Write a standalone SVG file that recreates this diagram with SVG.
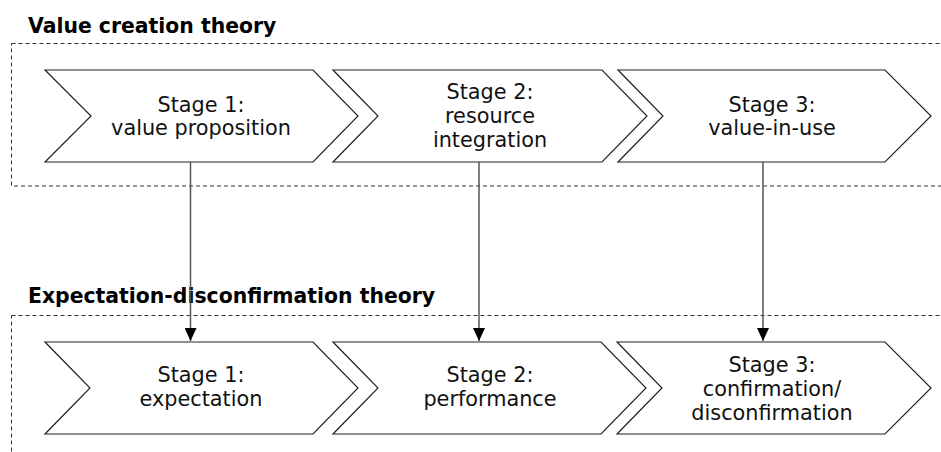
<svg xmlns="http://www.w3.org/2000/svg" width="941" height="452" viewBox="0 0 941 452">
<style>
.title{font-family:"DejaVu Sans",Verdana,sans-serif;font-weight:bold;font-size:20.4px;fill:#000}
.lbl{font-family:"DejaVu Sans",Verdana,sans-serif;font-size:20.8px;fill:#111;text-anchor:middle}
.box{fill:none;stroke:#333;stroke-width:1;stroke-dasharray:4 3}
.chev{fill:#fff;stroke:#222;stroke-width:1.2;stroke-linejoin:miter}
.conn{stroke:#555;stroke-width:1.5;fill:none}
</style>
<defs>
<marker id="ah" markerWidth="14" markerHeight="12" refX="13" refY="6" orient="auto" markerUnits="userSpaceOnUse">
<path d="M0,0 L13,6 L0,12 Z" fill="#000"/>
</marker>
</defs>
<rect width="941" height="452" fill="#fff"/>
<g id="group-value-creation">
<text class="title" x="28" y="33">Value creation theory</text>
<rect class="box" x="11.5" y="43.5" width="940" height="142.5"/>
</g>
<g id="group-expectation">
<text class="title" x="28" y="303">Expectation-disconfirmation theory</text>
<rect class="box" x="11.5" y="315.5" width="940" height="150"/>
</g>
<g id="vc1">
<path class="chev" d="M45,70 L313,70 L358,116 L313,162 L45,162 L91,116 Z"/>
<text class="lbl" x="201" y="112">Stage 1:</text>
<text class="lbl" x="201" y="135">value proposition</text>
</g>
<g id="vc2">
<path class="chev" d="M333,70 L602,70 L647,116 L602,162 L333,162 L378,116 Z"/>
<text class="lbl" x="490" y="99">Stage 2:</text>
<text class="lbl" x="490" y="123">resource</text>
<text class="lbl" x="490" y="147">integration</text>
</g>
<g id="vc3">
<path class="chev" d="M618,70 L885,70 L931,116 L885,162 L618,162 L663,116 Z"/>
<text class="lbl" x="772" y="112">Stage 3:</text>
<text class="lbl" x="772" y="135">value-in-use</text>
</g>
<g id="ed1">
<path class="chev" d="M45,342 L313,342 L358,388 L313,434 L45,434 L90,388 Z"/>
<text class="lbl" x="201" y="382">Stage 1:</text>
<text class="lbl" x="201" y="406">expectation</text>
</g>
<g id="ed2">
<path class="chev" d="M333,342 L601,342 L646,388 L601,434 L333,434 L378,388 Z"/>
<text class="lbl" x="490" y="382">Stage 2:</text>
<text class="lbl" x="490" y="406">performance</text>
</g>
<g id="ed3">
<path class="chev" d="M617,342 L885,342 L931,388 L885,434 L617,434 L662,388 Z"/>
<text class="lbl" x="772" y="372">Stage 3:</text>
<text class="lbl" x="772" y="396">confirmation/</text>
<text class="lbl" x="772" y="420">disconfirmation</text>
</g>
<g id="connectors">
<line class="conn" x1="190.5" y1="162" x2="190.5" y2="341" marker-end="url(#ah)"/>
<line class="conn" x1="479" y1="162" x2="479" y2="341" marker-end="url(#ah)"/>
<line class="conn" x1="763" y1="162" x2="763" y2="341" marker-end="url(#ah)"/>
</g>
</svg>
